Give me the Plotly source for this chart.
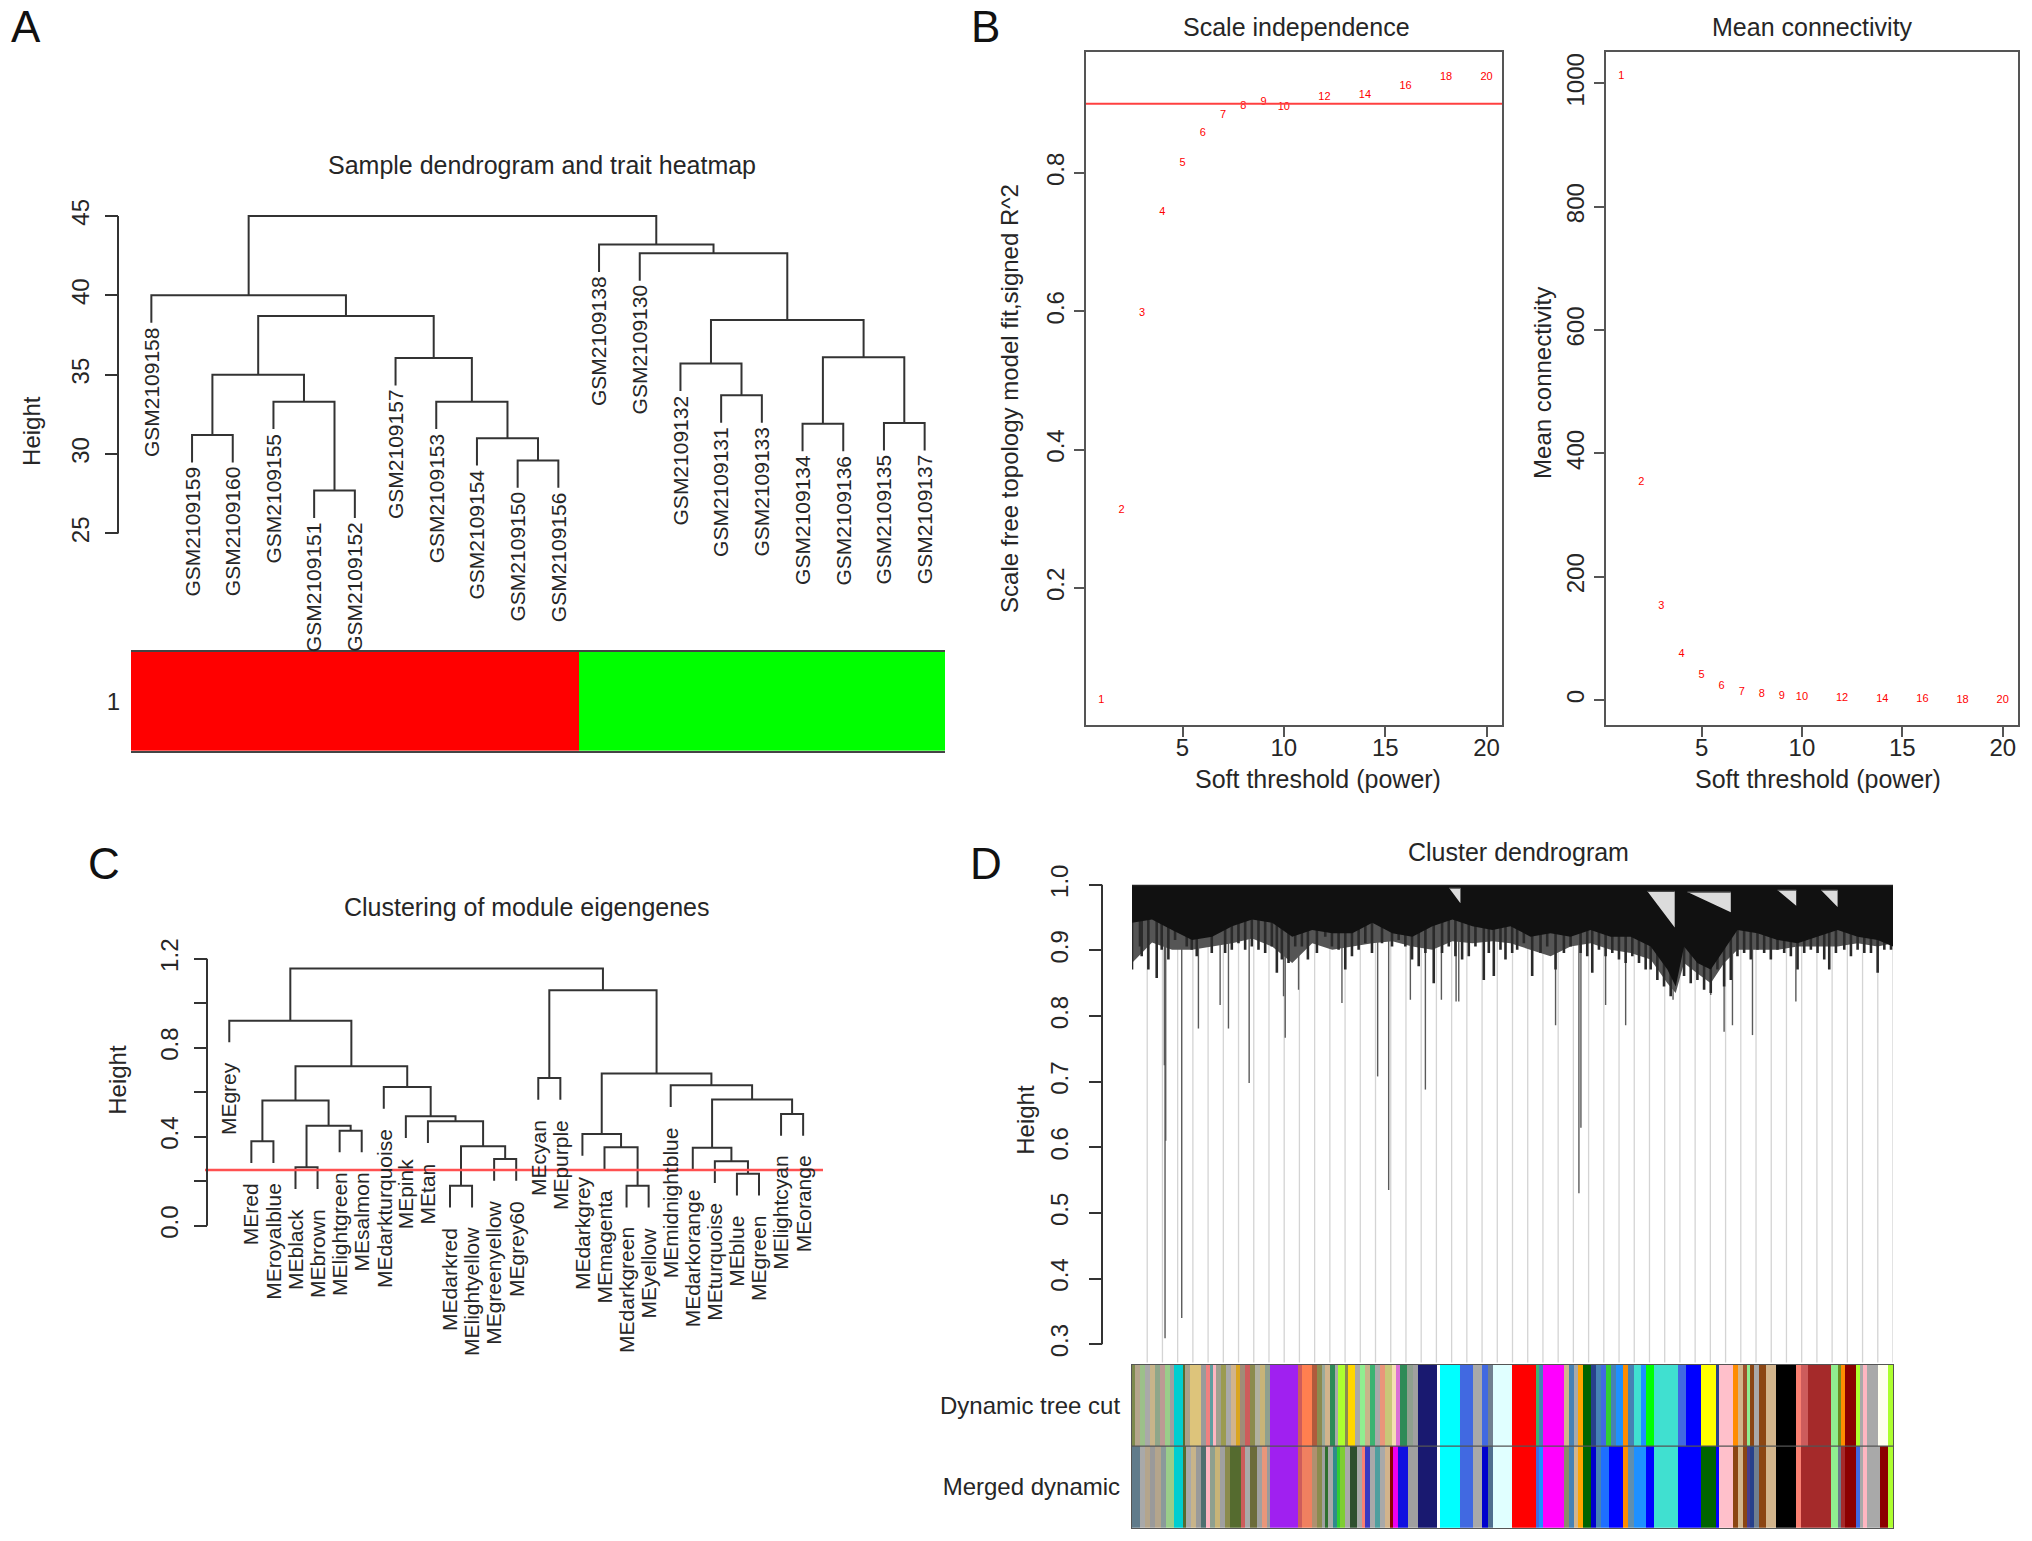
import plotly.graph_objects as go

W, H = 2032, 1541
FONT = "Liberation Sans, Arial, Helvetica, sans-serif"
INK = "#262626"
LINE = "#333333"
# the page is captured slightly squeezed vertically; positions below are in reference pixels
Y_OFF, Y_SCALE = 16, 0.984

# ---------------- A: sample dendrogram and trait heatmap ----------------
sample_labels = ["GSM2109158", "GSM2109159", "GSM2109160", "GSM2109155", "GSM2109151",
                 "GSM2109152", "GSM2109157", "GSM2109153", "GSM2109154", "GSM2109150",
                 "GSM2109156", "GSM2109138", "GSM2109130", "GSM2109132", "GSM2109131",
                 "GSM2109133", "GSM2109134", "GSM2109136", "GSM2109135", "GSM2109137"]
# hclust style merges: negative = leaf (position in order), positive = earlier merge
sample_merges = [(-5, -6, 27.7), (-10, -11, 29.6), (-9, 2, 31.0), (-2, -3, 31.2),
                 (-17, -18, 31.9), (-19, -20, 31.95), (-4, 1, 33.3), (-8, 3, 33.3),
                 (-15, -16, 33.7), (4, 7, 35.0), (-14, 9, 35.7), (-7, 8, 36.05),
                 (5, 6, 36.1), (11, 13, 38.45), (10, 12, 38.7), (-1, 15, 40.0),
                 (-13, 14, 42.65), (-12, 17, 43.2), (16, 18, 45.0)]
sample_trait = [1, 1, 1, 1, 1, 1, 1, 1, 1, 1, 1, 0, 0, 0, 0, 0, 0, 0, 0, 0]

# ---------------- B: soft threshold ----------------
powers = [1, 2, 3, 4, 5, 6, 7, 8, 9, 10, 12, 14, 16, 18, 20]
sft_r2 = [0.038, 0.312, 0.597, 0.743, 0.814, 0.858, 0.884, 0.896, 0.903, 0.895,
          0.909, 0.912, 0.925, 0.939, 0.939]
mean_k = [1011, 354, 152, 74, 40, 22, 13, 9, 7, 4, 2.5, 1.5, 1.0, 0.6, 0.4]
r2_cut = 0.90

# ---------------- C: module eigengene clustering ----------------
me_labels = ["MEgrey", "MEred", "MEroyalblue", "MEblack", "MEbrown", "MElightgreen",
             "MEsalmon", "MEdarkturquoise", "MEpink", "MEtan", "MEdarkred",
             "MElightyellow", "MEgreenyellow", "MEgrey60", "MEcyan", "MEpurple",
             "MEdarkgrey", "MEmagenta", "MEdarkgreen", "MEyellow", "MEmidnightblue",
             "MEdarkorange", "MEturquoise", "MEblue", "MEgreen", "MElightcyan", "MEorange"]
me_merges = [(-11, -12, 0.18), (-19, -20, 0.18), (-24, -25, 0.234), (-4, -5, 0.2625),
             (-23, 3, 0.29), (-13, -14, 0.30), (-22, 5, 0.35), (-18, 2, 0.3525),
             (1, 6, 0.357), (-2, -3, 0.38), (-17, 8, 0.4125), (-6, -7, 0.4275),
             (4, 12, 0.45), (-10, 9, 0.4695), (-9, 14, 0.492), (-26, -27, 0.5025),
             (7, 16, 0.567), (10, 13, 0.5625), (-8, 15, 0.624), (-21, 17, 0.6315),
             (-15, -16, 0.664), (11, 20, 0.684), (18, 19, 0.717), (-1, 23, 0.922),
             (21, 22, 1.059), (24, 25, 1.156)]
me_cut = 0.25

# ---------------- D: gene cluster dendrogram ----------------
n_genes = 2280
fringe_pos = [0, 60, 120, 180, 240, 300, 360, 420, 480, 540, 600, 660, 720, 780, 840,
              900, 960, 1020, 1080, 1134, 1194, 1254, 1314, 1374, 1434, 1494, 1554,
              1604, 1629, 1654, 1694, 1734, 1774, 1814, 1874, 1934, 1994, 2054, 2114,
              2174, 2234, 2280]
core_floor = [0.942, 0.947, 0.931, 0.916, 0.921, 0.937, 0.947, 0.942, 0.921, 0.931,
              0.926, 0.926, 0.942, 0.926, 0.921, 0.937, 0.947, 0.937, 0.931, 0.937,
              0.921, 0.926, 0.921, 0.931, 0.921, 0.921, 0.906, 0.871, 0.845, 0.906,
              0.881, 0.871, 0.901, 0.931, 0.926, 0.916, 0.911, 0.921, 0.931, 0.921,
              0.916, 0.906]
outer_floor = [0.881, 0.912, 0.901, 0.901, 0.906, 0.911, 0.918, 0.906, 0.881, 0.911,
               0.901, 0.906, 0.911, 0.914, 0.906, 0.901, 0.914, 0.911, 0.914, 0.911,
               0.901, 0.891, 0.906, 0.911, 0.901, 0.896, 0.886, 0.850, 0.835, 0.881,
               0.865, 0.850, 0.881, 0.901, 0.901, 0.901, 0.906, 0.906, 0.906, 0.911,
               0.906, 0.911]
# tips of the dense short branches hanging under the fringe: (leaf position, height)
gene_strands = [(0, 0.871), (24, 0.906), (29, 0.891), (49, 0.871), (74, 0.858), (89, 0.901),
                (109, 0.886), (129, 0.916), (164, 0.906), (179, 0.901), (194, 0.891),
                (219, 0.921), (239, 0.896), (279, 0.896), (299, 0.901), (319, 0.911),
                (339, 0.901), (359, 0.906), (379, 0.901), (399, 0.896), (419, 0.906),
                (434, 0.866), (449, 0.886), (469, 0.881), (489, 0.906), (509, 0.906),
                (527, 0.886), (554, 0.896), (579, 0.921), (599, 0.906), (619, 0.901),
                (639, 0.871), (659, 0.891), (679, 0.901), (699, 0.911), (719, 0.896),
                (749, 0.911), (779, 0.906), (799, 0.916), (819, 0.906), (839, 0.886),
                (859, 0.876), (879, 0.896), (904, 0.850), (929, 0.896), (949, 0.906),
                (969, 0.891), (989, 0.886), (1009, 0.891), (1029, 0.906), (1054, 0.855),
                (1069, 0.896), (1084, 0.861), (1104, 0.901), (1119, 0.886), (1139, 0.896),
                (1154, 0.901), (1174, 0.911), (1199, 0.861), (1224, 0.896), (1244, 0.906),
                (1269, 0.871), (1294, 0.896), (1314, 0.906), (1344, 0.896), (1364, 0.891),
                (1379, 0.866), (1399, 0.901), (1419, 0.891), (1439, 0.896), (1459, 0.886),
                (1479, 0.881), (1499, 0.891), (1519, 0.881), (1539, 0.871), (1554, 0.871),
                (1574, 0.855), (1594, 0.845), (1614, 0.830), (1634, 0.871), (1654, 0.861),
                (1674, 0.850), (1694, 0.855), (1714, 0.840), (1734, 0.835), (1754, 0.871),
                (1774, 0.845), (1794, 0.855), (1814, 0.891), (1834, 0.896), (1854, 0.886),
                (1874, 0.901), (1894, 0.896), (1914, 0.886), (1934, 0.901), (1954, 0.896),
                (1974, 0.891), (1994, 0.871), (2014, 0.896), (2034, 0.901), (2054, 0.896),
                (2074, 0.886), (2089, 0.871), (2109, 0.896), (2134, 0.901), (2154, 0.891),
                (2174, 0.901), (2194, 0.896), (2214, 0.896), (2234, 0.866), (2254, 0.901),
                (2274, 0.901)]
# (leaf position, lowest height) of the longer branches below the fringe
gene_branches = [(97, 0.725), (99, 0.309), (101, 0.61), (149, 0.34), (199, 0.781),
                 (264, 0.817), (289, 0.781), (351, 0.698), (454, 0.830), (459, 0.767),
                 (499, 0.840), (629, 0.820), (736, 0.708), (769, 0.535), (834, 0.825),
                 (879, 0.688), (927, 0.825), (971, 0.822), (979, 0.822), (1269, 0.786),
                 (1339, 0.53), (1345, 0.63), (1419, 0.817), (1479, 0.786), (1621, 0.825),
                 (1734, 0.832), (1774, 0.776), (1799, 0.786), (1859, 0.771), (1989, 0.822)]
# open wedges under high merges: (left, right, merge height, lowest height at right)
gene_gaps = [(950, 984, 0.995, 0.972), (1544, 1626, 0.990, 0.935),
             (1664, 1794, 0.989, 0.958), (1934, 1990, 0.992, 0.968),
             (2064, 2114, 0.992, 0.966)]
n_guides = 50

dynamic_sizes = [8, 15, 15, 15, 15, 15, 15, 15, 13, 27, 7, 13, 35, 15, 10, 10, 10, 15, 15, 15,
                 15, 10, 15, 15, 15, 15, 15, 15, 85, 10, 30, 15, 15, 10, 15, 15, 10, 20, 10, 20,
                 15, 15, 15, 15, 15, 15, 20, 12, 13, 20, 20, 13, 57, 10, 60, 40, 25, 20, 15, 55,
                 72, 10, 10, 65, 15, 15, 10, 15, 25, 15, 15, 15, 15, 15, 20, 15, 20, 20, 15, 25,
                 70, 25, 45, 45, 10, 40, 15, 15, 12, 10, 13, 15, 20, 30, 60, 15, 20, 70, 20, 10,
                 10, 35, 10, 10, 12, 33, 30, 15]
dynamic_colors = ["#7E8B4E", "#B5A58C", "#9CC08A", "#A9A9A9", "#C8B48A", "#8FA68A", "#BC9A94",
                  "#9ACD8A", "#A0A0A0", "#00CED1", "#556B2F", "#A8A08A", "#DDC47B", "#9A9A9A",
                  "#F08080", "#5F9EA0", "#FFB6C1", "#A0A090", "#9B9B50", "#A9A9A9", "#D2B48C",
                  "#DAA520", "#A08C78", "#CD5C5C", "#8B8B4E", "#B0B0A0", "#C8B478", "#8FA08F",
                  "#A020F0", "#CD5C5C", "#FF7F50", "#B05A3C", "#8B8B4E", "#9AAA9A", "#D2B48C",
                  "#2E8B57", "#A9A9A9", "#ADFF2F", "#8B8B4E", "#FFD700", "#A9A9A9", "#90EE90",
                  "#C8B48A", "#3CB371", "#A9A9A9", "#E9967A", "#C8C878", "#F5DEB3", "#DA70D6",
                  "#2E8B57", "#8FA08F", "#A0A0A0", "#191970", "#FFFFFF", "#00FFFF", "#4169E1",
                  "#A9A9A9", "#4169E1", "#708090", "#E0FFFF",
                  "#FF0000", "#3CB371", "#4682B4", "#FF00FF", "#D2B48C", "#4682B4", "#A9A9A9",
                  "#FFA500", "#006400", "#27408B", "#4682B4", "#4169E1", "#32CD32", "#4682B4",
                  "#1E90FF", "#FF8C00", "#4682B4", "#40E0D0", "#1E90FF", "#00FF00", "#40E0D0",
                  "#4169E1", "#0000FF", "#FFFF00", "#27408B", "#FFC0CB", "#FF8C00", "#D2B48C",
                  "#A0522D", "#90EE90", "#8B4513", "#A9A9A9", "#8B4513", "#D2B48C", "#000000",
                  "#FA8072", "#CD5C5C", "#A52A2A", "#90EE90", "#6B8E23", "#FF8C00", "#8B0000",
                  "#ADFF2F", "#A9A9A9", "#FFB6C1", "#A9A9A9", "#FFFFF0", "#ADFF2F"]
merged_sizes = [23, 15, 15, 15, 20, 15, 23, 27, 10, 15, 15, 15, 15, 10, 15, 15, 15, 15, 35, 10,
                15, 20, 15, 15, 10, 85, 10, 30, 15, 15, 10, 10, 15, 10, 10, 15, 15, 20, 15, 10,
                15, 15, 15, 15, 15, 10, 15, 30, 28, 57, 10, 60, 40, 25, 20, 15, 55,
                72, 10, 10, 65, 15, 15, 10, 15, 25, 15, 15, 25, 40, 15, 20, 35, 25, 70, 70,
                45, 10, 40, 15, 15, 12, 10, 13, 15, 20, 30, 60, 15, 20, 70, 20, 10, 10, 35,
                10, 10, 12, 38, 25, 15]
merged_colors = ["#607B8B", "#A9A9A9", "#B4A58C", "#9A9A9A", "#B4A58C", "#8A9A9A", "#9ACD8A",
                 "#00CED1", "#556B2F", "#A9A9A9", "#C8B48A", "#9A9A9A", "#4F6F6F", "#FFB6C1",
                 "#8FA08F", "#C8B478", "#A0A0A0", "#8B8B4E", "#556B2F", "#CD5C5C", "#A9A9A9",
                 "#6B6B3A", "#A0A0A0", "#E9967A", "#9A9A9A", "#A020F0", "#CD5C5C", "#F08060",
                 "#B09070", "#8B8B4E", "#A0A0A0", "#2F6F2F", "#A9A9A9", "#2E8B8B", "#32CD32",
                 "#7FCD32", "#A9A9A9", "#2F4F2F", "#A9A9A9", "#FA8072", "#3A3AC0", "#A9A9A9",
                 "#4F9F9F", "#A9A9A9", "#D2B48C", "#8B0000", "#EE00EE", "#1010E0", "#A0A0A0",
                 "#191970", "#FFFFFF", "#00FFFF", "#4169E1", "#A9A9A9", "#0000CD", "#4F6F8F",
                 "#E0FFFF",
                 "#FF0000", "#4169E1", "#1E90FF", "#FF00FF", "#8B8B6B", "#4682B4", "#D2B48C",
                 "#FFA500", "#006400", "#0000CD", "#4682B4", "#1E6FFF", "#0000FF", "#FF8C00",
                 "#5F8FAF", "#1E90FF", "#0000FF", "#40E0D0", "#0000FF", "#006400", "#0000FF",
                 "#FFC0CB", "#8B4513", "#D2B48C", "#8B4513", "#483D8B", "#27408B", "#708090",
                 "#8B4513", "#D2B48C", "#000000", "#FA8072", "#A52A2A", "#A52A2A", "#90EE90",
                 "#6C7B8B", "#A52A2A", "#8B0000", "#4169E1", "#A9A9A9", "#FFB6C1", "#A9A9A9",
                 "#8B0000", "#ADFF2F"]
track_labels = ["Merged dynamic", "Dynamic tree cut"]


def fx(p):
    return p / W


def fy(p):
    return 1 - ((p - Y_OFF) / Y_SCALE) / H


def ydom(r0, r1, v_a, p_a, v_b, p_b):
    k = (p_b - p_a) / (v_b - v_a)
    return [fy(p_a + (r0 - v_a) * k), fy(p_a + (r1 - v_a) * k)]


def dendro(merges, hang):
    pos, top, bottoms = {}, {}, {}
    xs, ys = [], []
    for k, (a, b, h) in enumerate(merges, start=1):
        ends = []
        for c in (a, b):
            if c < 0:
                pos[c] = float(-c)
                bottoms[-c] = h - hang
                ends.append((pos[c], h - hang))
            else:
                ends.append((pos[c], top[c]))
        (xa, ya), (xb, yb) = ends
        xs += [xa, xa, xb, xb, None]
        ys += [ya, h, h, yb, None]
        pos[k] = (xa + xb) / 2
        top[k] = h
    return xs, ys, bottoms


def segs(pairs, y_top):
    xs, ys = [], []
    for u, h in pairs:
        xs += [u, u, None]
        ys += [y_top, h, None]
    return xs, ys


def tickfont(size=24):
    return dict(size=size, color=INK, family=FONT)


def r_yaxis(domain, rng, vals, text, pos_px, standoff=6):
    return dict(domain=domain, range=rng, anchor="free", position=fx(pos_px),
                showline=False, showgrid=False, zeroline=False,
                tickmode="array", tickvals=vals, ticktext=text,
                ticks="outside", ticklen=13, tickwidth=2, tickcolor=LINE,
                tickangle=-90, tickfont=tickfont(), ticklabelstandoff=standoff)


def hidden_x(domain, rng, anchor):
    return dict(domain=domain, range=rng, anchor=anchor, visible=False,
                showgrid=False, zeroline=False)


fig = go.Figure()
annotations = []
shapes = []

# ---- A ----
heights_a = [m[2] for m in sample_merges]
hang_a = 0.1 * (max(heights_a) - min(heights_a))
xs, ys, leaf_bottom_a = dendro(sample_merges, hang_a)
fig.add_trace(go.Scatter(x=xs, y=ys, mode="lines", line=dict(color=LINE, width=2),
                         xaxis="x", yaxis="y", hoverinfo="skip", showlegend=False))
for i, lab in enumerate(sample_labels, start=1):
    annotations.append(dict(x=i, y=leaf_bottom_a[i], xref="x", yref="y", text=lab,
                            textangle=-90, xanchor="center", yanchor="top", yshift=-2,
                            showarrow=False, font=tickfont(21)))
fig.add_trace(go.Heatmap(z=[sample_trait], x=list(range(1, len(sample_trait) + 1)), y=[0.5],
                         colorscale=[[0, "#00FF00"], [1, "#FF0000"]], zmin=0, zmax=1,
                         showscale=False, xaxis="x2", yaxis="y2", hoverinfo="skip"))
shapes.append(dict(type="line", xref="paper", yref="y", x0=fx(118), x1=fx(118),
                   y0=25, y1=45, line=dict(color=LINE, width=2)))

# ---- B ----
fig.add_trace(go.Scatter(x=powers, y=sft_r2, mode="text", text=[str(p) for p in powers],
                         textfont=dict(color="#FF0000", size=11, family=FONT),
                         xaxis="x3", yaxis="y3", hoverinfo="skip", showlegend=False))
fig.add_trace(go.Scatter(x=powers, y=mean_k, mode="text", text=[str(p) for p in powers],
                         textfont=dict(color="#FF0000", size=11, family=FONT),
                         xaxis="x4", yaxis="y4", hoverinfo="skip", showlegend=False))
shapes.append(dict(type="line", xref="x3 domain", yref="y3", x0=0, x1=1,
                   y0=r2_cut, y1=r2_cut, line=dict(color="#FF4040", width=2)))

# ---- C ----
heights_c = [m[2] for m in me_merges]
hang_c = 0.1 * (max(heights_c) - min(heights_c))
xs, ys, leaf_bottom_c = dendro(me_merges, hang_c)
fig.add_trace(go.Scatter(x=xs, y=ys, mode="lines", line=dict(color=LINE, width=2),
                         xaxis="x5", yaxis="y5", hoverinfo="skip", showlegend=False))
for i, lab in enumerate(me_labels, start=1):
    annotations.append(dict(x=i, y=leaf_bottom_c[i], xref="x5", yref="y5", text=lab,
                            textangle=-90, xanchor="center", yanchor="top", yshift=-18,
                            showarrow=False, font=tickfont(21)))
shapes.append(dict(type="line", xref="x5 domain", yref="y5", x0=0, x1=1,
                   y0=me_cut, y1=me_cut, line=dict(color="#FF5050", width=2.5)))
shapes.append(dict(type="line", xref="paper", yref="y5", x0=fx(207), x1=fx(207),
                   y0=0, y1=1.2, line=dict(color=LINE, width=2)))

# ---- D ----
guide_x, guide_y = [], []
step = n_genes / n_guides
for k in range(1, n_guides + 1):
    guide_x += [k * step, k * step, None]
    guide_y += [0.2, 0.95, None]
fig.add_trace(go.Scatter(x=guide_x, y=guide_y, mode="lines",
                         line=dict(color="#D4D4D4", width=1.3),
                         xaxis="x6", yaxis="y6", hoverinfo="skip", showlegend=False))
xs, ys = segs(gene_branches, 0.93)
fig.add_trace(go.Scatter(x=xs, y=ys, mode="lines", line=dict(color="#5A5A5A", width=1.4),
                         xaxis="x6", yaxis="y6", hoverinfo="skip", showlegend=False))
fig.add_trace(go.Scatter(x=fringe_pos + fringe_pos[::-1],
                         y=outer_floor + [0.999] * len(fringe_pos), mode="lines",
                         fill="toself", fillcolor="#555555", line=dict(width=0, color="#555555"),
                         xaxis="x6", yaxis="y6", hoverinfo="skip", showlegend=False))
xs, ys = segs(gene_strands, 0.95)
fig.add_trace(go.Scatter(x=xs, y=ys, mode="lines", line=dict(color="#2A2A2A", width=2.6),
                         xaxis="x6", yaxis="y6", hoverinfo="skip", showlegend=False))
fig.add_trace(go.Scatter(x=fringe_pos + fringe_pos[::-1],
                         y=core_floor + [0.999] * len(fringe_pos), mode="lines",
                         fill="toself", fillcolor="#111111", line=dict(width=0, color="#111111"),
                         xaxis="x6", yaxis="y6", hoverinfo="skip", showlegend=False))
gx, gy, lx, ly = [], [], [], []
for ul, ur, vt, vb in gene_gaps:
    gx += [ul, ur, ur, ul, None]
    gy += [vt, vt, vb, vt, None]
    lx += [ul, ur, None]
    ly += [vt, vt, None]
fig.add_trace(go.Scatter(x=gx, y=gy, mode="lines", fill="toself", fillcolor="#DCDCDC",
                         line=dict(width=0, color="#DCDCDC"), xaxis="x6", yaxis="y6",
                         hoverinfo="skip", showlegend=False))
fig.add_trace(go.Scatter(x=lx, y=ly, mode="lines", line=dict(color="#444444", width=1.3),
                         xaxis="x6", yaxis="y6", hoverinfo="skip", showlegend=False))
fig.add_trace(go.Scatter(x=[0, n_genes], y=[0.999, 0.999], mode="lines",
                         line=dict(color="#222222", width=1.5), xaxis="x6", yaxis="y6",
                         hoverinfo="skip", showlegend=False))
shapes.append(dict(type="line", xref="paper", yref="y6", x0=fx(1102), x1=fx(1102),
                   y0=0.3, y1=1.0, line=dict(color=LINE, width=2)))

for base, sizes, cols in ((0, merged_sizes, merged_colors), (1, dynamic_sizes, dynamic_colors)):
    centers, acc = [], 0
    for s in sizes:
        centers.append(acc + s / 2)
        acc += s
    fig.add_trace(go.Bar(x=centers, y=[1] * len(sizes), base=[base] * len(sizes), width=sizes,
                         marker=dict(color=cols, line=dict(width=0)),
                         xaxis="x7", yaxis="y7", hoverinfo="skip", showlegend=False))
shapes.append(dict(type="line", xref="x7 domain", yref="y7", x0=0, x1=1, y0=1, y1=1,
                   line=dict(color="#555555", width=1.2)))

# ---- text ----
for letter, x, y in (("A", 26, 27), ("B", 985, 27), ("C", 104, 864), ("D", 986, 864)):
    annotations.append(dict(x=fx(x), y=fy(y), xref="paper", yref="paper", text=letter,
                            showarrow=False, xanchor="center", yanchor="middle",
                            font=dict(size=44, color="#111111", family=FONT)))
for txt, x, y in (("Sample dendrogram and trait heatmap", 542, 165),
                  ("Scale independence", 1296, 27), ("Mean connectivity", 1812, 27),
                  ("Clustering of module eigengenes", 527, 907),
                  ("Cluster dendrogram", 1518, 852),
                  ("Soft threshold (power)", 1318, 779),
                  ("Soft threshold (power)", 1818, 779)):
    annotations.append(dict(x=fx(x), y=fy(y), xref="paper", yref="paper", text=txt,
                            showarrow=False, xanchor="center", yanchor="middle",
                            font=tickfont(25)))
for txt, x, y in (("Height", 32, 431), ("Scale free topology model fit,signed R^2", 1010, 399),
                  ("Mean connectivity", 1543, 383), ("Height", 118, 1080),
                  ("Height", 1026, 1120)):
    annotations.append(dict(x=fx(x), y=fy(y), xref="paper", yref="paper", text=txt,
                            textangle=-90, showarrow=False, xanchor="center",
                            yanchor="middle", font=tickfont(24)))

box = dict(showline=True, mirror=True, linecolor="#555555", linewidth=2, showgrid=False,
           zeroline=False, ticks="outside", ticklen=10, tickwidth=2, tickcolor="#555555",
           tickfont=tickfont(), tickmode="array")

layout = dict(
    width=W, height=H, margin=dict(l=0, r=0, t=0, b=0),
    paper_bgcolor="white", plot_bgcolor="white", barmode="overlay", bargap=0,
    showlegend=False, font=dict(family=FONT, color=INK),
    annotations=annotations, shapes=shapes,
    # A
    xaxis=hidden_x([fx(131), fx(945)], [0.5, 20.5], "y"),
    yaxis=r_yaxis(ydom(24.6, 45.4, 25, 533.5, 45, 216), [24.6, 45.4],
                  [25, 30, 35, 40, 45], ["25", "30", "35", "40", "45"], 118),
    xaxis2=dict(domain=[fx(131), fx(945)], range=[0.5, 20.5], anchor="y2", showline=True,
                mirror=True, linecolor="#444444", linewidth=2, showticklabels=False,
                ticks="", showgrid=False, zeroline=False),
    yaxis2=dict(domain=[fy(751), fy(652)], range=[0, 1], anchor="x2", showline=False,
                tickmode="array", tickvals=[0.5], ticktext=["1"], ticks="",
                tickfont=tickfont(), ticklabelstandoff=10, showgrid=False, zeroline=False),
    # B
    xaxis3=dict(box, domain=[fx(1086), fx(1502)], range=[0.24, 20.76], anchor="y3",
                tickvals=[5, 10, 15, 20], ticklabelstandoff=-10),
    yaxis3=dict(box, domain=[fy(725), fy(52)], range=[0.002, 0.975], anchor="x3",
                tickvals=[0.2, 0.4, 0.6, 0.8], ticktext=["0.2", "0.4", "0.6", "0.8"],
                tickangle=-90, ticklabelstandoff=0),
    xaxis4=dict(box, domain=[fx(1606), fx(2018)], range=[0.24, 20.76], anchor="y4",
                tickvals=[5, 10, 15, 20], ticklabelstandoff=-10),
    yaxis4=dict(box, domain=[fy(725), fy(52)], range=[-40, 1051], anchor="x4",
                tickvals=[0, 200, 400, 600, 800, 1000], tickangle=-90, ticklabelstandoff=0),
    # C
    xaxis5=hidden_x([fx(205), fx(823)], [-0.1, 27.9], "y5"),
    yaxis5=r_yaxis(ydom(-0.02, 1.22, 0, 1226, 1.2, 959), [-0.02, 1.22],
                   [0, 0.2, 0.4, 0.6, 0.8, 1.0, 1.2], ["0.0", "", "0.4", "", "0.8", "", "1.2"], 207),
    # D
    xaxis6=hidden_x([fx(1132), fx(1893)], [0, n_genes], "y6"),
    yaxis6=r_yaxis(ydom(0.272, 1.015, 1.0, 885, 0.3, 1344.5), [0.272, 1.015],
                   [0.3, 0.4, 0.5, 0.6, 0.7, 0.8, 0.9, 1.0],
                   ["0.3", "0.4", "0.5", "0.6", "0.7", "0.8", "0.9", "1.0"], 1102, 11),
    xaxis7=dict(domain=[fx(1132), fx(1893)], range=[0, n_genes], anchor="y7", showline=True,
                mirror=True, linecolor="#555555", linewidth=1.2, showticklabels=False,
                ticks="", showgrid=False, zeroline=False),
    yaxis7=dict(domain=[fy(1528), fy(1365)], range=[0, 2], anchor="x7", showline=True,
                mirror=True, linecolor="#555555", linewidth=1.2, tickmode="array",
                tickvals=[0.5, 1.5], ticktext=track_labels, ticks="",
                tickfont=tickfont(), ticklabelstandoff=6, showgrid=False, zeroline=False),
)
fig.update_layout(**layout)

fig.write_html("out.html", config={"displayModeBar": False},
               post_script="document.body.style.margin='0';")
